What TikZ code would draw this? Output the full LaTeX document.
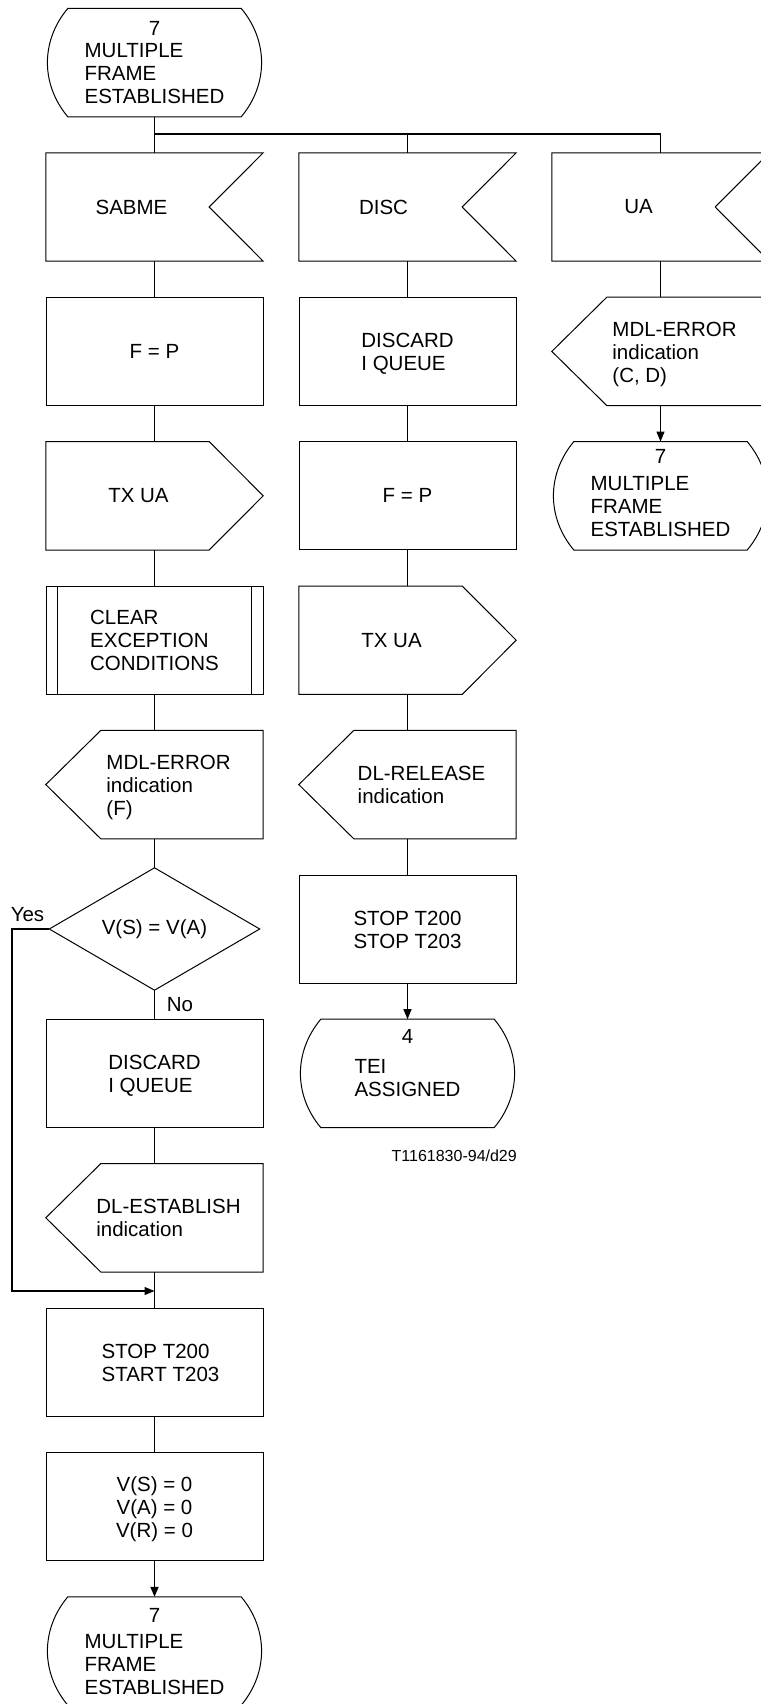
\documentclass[tikz,border=0pt]{standalone}
\usepackage{fontspec}
\setmainfont{Liberation Sans}
\usetikzlibrary{arrows.meta,calc}
\newcommand{\sx}[2]{\kern#1\relax\raisebox{-3pt}[\height][\depth]{\begin{tabular}{@{}l@{}}#2\end{tabular}}\kern-#1\relax}
\newcommand{\cx}[1]{\raisebox{-3pt}[\height][\depth]{\begin{tabular}{@{}c@{}}#1\end{tabular}}}
\begin{document}
\begin{tikzpicture}[x=1pt,y=-1pt,
  every node/.style={font=\fontsize{20.5pt}{23pt}\selectfont, inner sep=0pt},
  box/.style={minimum width=217pt, minimum height=108pt, inner sep=0pt},
  proc/.style={box, draw, line width=1pt},
  ol/.style={line width=1pt},
  c1/.style={line width=1.8pt},
  c2/.style={line width=1.1pt},
  arr/.style={-{Triangle[length=10pt,width=8pt]}},
]
\useasboundingbox (0,0) rectangle (760,1704);

% ---- column 1 ----
\node[box] (st1) at (154.5,62.6) {};
\node (st1n) at ([yshift=-20pt]st1.north) {7};
\node (st1t) at ([yshift=-10pt]st1.center) {\sx{0pt}{MULTIPLE\\FRAME\\ESTABLISHED}};

\node[box] (sabme) at (154.5,207) {\kern-23pt SABME\kern23pt};
\node[proc] (fp1) at (154.5,351.4) {F = P};
\node[box] (txua1) at (154.5,495.8) {\kern-16pt TX UA\kern16pt};
\node[proc] (clear) at (154.5,640.2) {\sx{0pt}{CLEAR\\EXCEPTION\\CONDITIONS}};
\node[box] (mdl1) at (154.5,784.6) {\sx{14pt}{MDL-ERROR\\indication\\(F)}};
\node[minimum width=210pt, minimum height=122pt] (dec) at (154.5,929) {V(S) = V(A)};
\node (yes) at (27.5,915) {Yes};
\node (no) at (180,1005) {No};
\node[proc] (discq1) at (154.5,1073.4) {\sx{0pt}{DISCARD\\I QUEUE}};
\node[box] (dlest) at (154.5,1217.8) {\sx{14pt}{DL-ESTABLISH\\indication}};
\node[proc] (stop1) at (154.5,1362.2) {\sx{6pt}{STOP T200\\START T203}};
\node[proc] (vs) at (154.5,1506.6) {\cx{V(S) = 0\\V(A) = 0\\V(R) = 0}};
\node[box] (st4) at (154.5,1651) {};
\node (st4n) at ([yshift=-19pt]st4.north) {7};
\node (st4t) at ([yshift=-13pt]st4.center) {\sx{0pt}{MULTIPLE\\FRAME\\ESTABLISHED}};

% ---- column 2 ----
\node[box] (disc) at (407.5,207) {\kern-24pt DISC\kern24pt};
\node[proc] (discq2) at (407.5,351.4) {\sx{0pt}{DISCARD\\I QUEUE}};
\node[proc] (fp2) at (407.5,495.8) {F = P};
\node[box] (txua2) at (407.5,640.2) {\kern-16pt TX UA\kern16pt};
\node[box] (dlrel) at (407.5,784.6) {\sx{14pt}{DL-RELEASE\\indication}};
\node[proc] (stop2) at (407.5,929) {\sx{0pt}{STOP T200\\STOP T203}};
\node[box] (st2) at (407.5,1073.4) {};
\node (st2n) at ([yshift=-17pt]st2.north) {4};
\node (st2t) at ([yshift=-4pt]st2.center) {\sx{0pt}{TEI\\ASSIGNED}};
\node[font=\fontsize{16pt}{18pt}\selectfont, anchor=east] (ref) at (517,1155.5) {T1161830-94/d29};

% ---- column 3 ----
\node[box] (ua) at (660.5,207) {\kern-22pt UA\kern22pt};
\node[box] (mdl3) at (660.5,351.4) {\sx{14pt}{MDL-ERROR\\indication\\(C, D)}};
\node[box] (st3) at (660.5,495.8) {};
\node (st3n) at ([yshift=-15pt]st3.north) {7};
\node (st3t) at ([yshift=-10pt]st3.center) {\sx{0pt}{MULTIPLE\\FRAME\\ESTABLISHED}};

% ---- outlines ----
\foreach \n in {sabme,disc,ua}
  \draw[ol] (\n.north west) -- (\n.north east) -- ([xshift=-54pt]\n.east)
    -- (\n.south east) -- (\n.south west) -- cycle;
\foreach \n in {txua1,txua2}
  \draw[ol] (\n.north west) -- ([xshift=-54pt]\n.north east) -- (\n.east)
    -- ([xshift=-54pt]\n.south east) -- (\n.south west) -- cycle;
\foreach \n in {mdl1,dlrel,dlest,mdl3}
  \draw[ol] ([xshift=55pt]\n.north west) -- (\n.north east) -- (\n.south east)
    -- ([xshift=55pt]\n.south west) -- (\n.west) -- cycle;
\foreach \n in {st1,st2,st3,st4}
  \draw[ol] ([xshift=22pt]\n.north west) -- ([xshift=-22pt]\n.north east)
    to[bend left=40] ([xshift=-22pt]\n.south east) -- ([xshift=22pt]\n.south west)
    to[bend left=40] ([xshift=22pt]\n.north west) -- cycle;
\draw[ol] ([xshift=12pt]clear.north west) -- ([xshift=12pt]clear.south west);
\draw[ol] ([xshift=-12pt]clear.north east) -- ([xshift=-12pt]clear.south east);
\draw[ol] (dec.north) -- (dec.east) -- (dec.south) -- (dec.west) -- cycle;

% ---- connectors ----
\coordinate (br) at (154.5,134);
\draw[c1] (st1.south) -- (sabme.north);
\draw[c2] (br) -| (ua.north);
\draw[c2] (br -| disc.north) -- (disc.north);

\draw[c1] (sabme.south) -- (fp1.north);
\draw[c1] (fp1.south) -- (txua1.north);
\draw[c1] (txua1.south) -- (clear.north);
\draw[c1] (clear.south) -- (mdl1.north);
\draw[c1] (mdl1.south) -- (dec.north);
\draw[c1] (dec.south) -- (discq1.north);
\draw[c1] (discq1.south) -- (dlest.north);
\draw[c1] (dlest.south) -- (stop1.north);
\draw[c1] (stop1.south) -- (vs.north);
\draw[c1,arr] (vs.south) -- (st4.north);

\coordinate (ycorner) at (12,1291);
\coordinate (merge) at (154.5,1291);
\draw[c2,arr] (dec.west) -| (ycorner) -- (merge);

\draw[c2] (disc.south) -- (discq2.north);
\draw[c2] (discq2.south) -- (fp2.north);
\draw[c2] (fp2.south) -- (txua2.north);
\draw[c2] (txua2.south) -- (dlrel.north);
\draw[c2] (dlrel.south) -- (stop2.north);
\draw[c2,arr] (stop2.south) -- (st2.north);

\draw[c2] (ua.south) -- (mdl3.north);
\draw[c2,arr] (mdl3.south) -- (st3.north);
\end{tikzpicture}
\end{document}
